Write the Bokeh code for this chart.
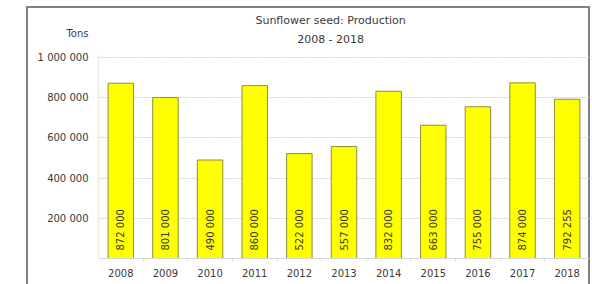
from bokeh.plotting import figure
from bokeh.models import ColumnDataSource, Label, FixedTicker, CustomJSTickFormatter
from bokeh.core.properties import value
from bokeh.embed import file_html
from bokeh.resources import INLINE
from math import pi

years = [2008, 2009, 2010, 2011, 2012, 2013, 2014, 2015, 2016, 2017, 2018]
production = [872000, 801000, 490000, 860000, 522000, 557000, 832000, 663000, 755000, 874000, 792255]
labels = ["872 000", "801 000", "490 000", "860 000", "522 000", "557 000",
          "832 000", "663 000", "755 000", "874 000", "792 255"]
y_ticks = [200000, 400000, 600000, 800000, 1000000]
title_line1 = "Sunflower seed: Production"
title_line2 = "2008 - 2018"
unit_label = "Tons"

# header placement (in axis units) inside the extended plotting area
Y_TOP = 1243800
UNIT_Y = 1119400
TITLE_X = 2012.7
TITLE_Y = [1186000, 1089500]

FONT = "DejaVu Sans"
TXT = "#3a3a3a"
BORDER = "#808080"

src = ColumnDataSource(dict(x=years, top=production, lab=labels, base=[0] * len(years)))

p = figure(width=592, height=284, output_backend="svg", toolbar_location=None,
           x_range=(2007.5, 2018.5), y_range=(0, Y_TOP),
           min_border_left=98, min_border_right=3, min_border_top=8, min_border_bottom=26,
           styles={"box-shadow": (f"inset 26px 0 0 white, inset 0 6px 0 white, inset -2px 0 0 white, "
                                  f"inset 28px 0 0 {BORDER}, inset 0 8px 0 {BORDER}, "
                                  f"inset -4px 0 0 {BORDER}")})
p.outline_line_color = None
p.border_fill_color = None
p.background_fill_color = None

p.vbar(x="x", top="top", width=0.57, source=src, fill_color="#ffff00",
       line_color="#8f8f3a", line_width=1)
p.text(x="x", y="base", text="lab", source=src, angle=pi / 2, text_align="left",
       text_baseline="middle", y_offset=-8, text_font_size="10px", text_color=TXT,
       text_font=value(FONT))

# y axis: value ticks plus the unit label as the top tick
p.yaxis.ticker = FixedTicker(ticks=y_ticks + [UNIT_Y])
p.yaxis.formatter = CustomJSTickFormatter(
    args=dict(unit_y=UNIT_Y, unit=unit_label),
    code="if (tick == unit_y) { return unit; } return tick.toLocaleString('en-US').replace(/,/g, ' ');")
p.yaxis.axis_line_color = None
p.segment(x0=[2007.5], y0=[0], x1=[2007.5], y1=[max(y_ticks) * 1.01], line_color="#d6d6d6", line_width=1)

p.xaxis.ticker = FixedTicker(ticks=years, minor_ticks=[y + 0.5 for y in years[:-1]])
p.xaxis.axis_line_color = "#d6d6d6"
for ax in (p.xaxis, p.yaxis):
    ax.major_label_text_font = FONT
    ax.major_label_text_font_size = "10px"
    ax.major_label_text_color = TXT
    ax.major_tick_line_color = None
    ax.major_tick_out = 0
    ax.major_tick_in = 0
p.xaxis.minor_tick_line_color = "#d6d6d6"
p.xaxis.minor_tick_in = 0
p.xaxis.minor_tick_out = 3
p.yaxis.minor_tick_line_color = None
p.yaxis.major_label_standoff = 10
p.xaxis.major_label_standoff = 7

p.xgrid.grid_line_color = None
p.ygrid.ticker = FixedTicker(ticks=y_ticks)
p.ygrid.grid_line_color = "#d4d4d4"
p.ygrid.grid_line_dash = "2 1"

for txt, ty in zip([title_line1, title_line2], TITLE_Y):
    p.add_layout(Label(x=TITLE_X, y=ty, text=txt, text_align="center", text_baseline="middle",
                       text_font=FONT, text_font_size="11px", text_color=TXT))

open("out.html", "w").write(file_html(p, INLINE))
